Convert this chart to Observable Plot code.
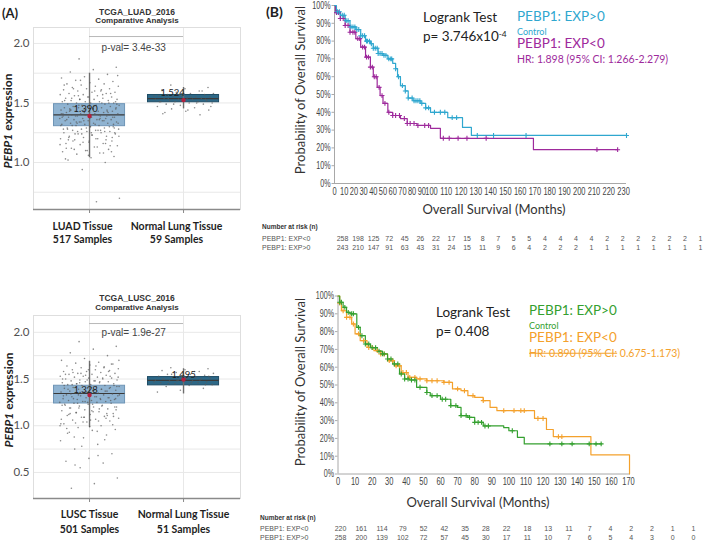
<!DOCTYPE html>
<html><head><meta charset="utf-8">
<script src="https://cdn.jsdelivr.net/npm/d3@7"></script>
<script src="https://cdn.jsdelivr.net/npm/@observablehq/plot@0.6"></script>
<style>
html,body{margin:0;padding:0;background:#fff;}
#root{position:relative;width:709px;height:542px;overflow:hidden;font-family:Lato,"Open Sans",sans-serif;color:#222;}
.t{position:absolute;white-space:nowrap;line-height:1;}
.c{transform:translate(-50%,-50%);}
.l{transform:translate(0,-50%);}
.r{transform:translate(-50%,-50%) rotate(-90deg);}
</style></head><body><div id="root"></div>
<script>
// ---------------- DATA ----------------
// Panel A (top): TCGA_LUAD_2016
const luadCats = ["LUAD Tissue", "Normal Lung Tissue"];
const luadN = [517, 59];
const luadQ1 = [1.305, 1.506];
const luadQ3 = [1.49, 1.567];
const luadMed = [1.40, 1.536];
const luadLo = [1.04, 1.45];
const luadHi = [1.75, 1.63];
const luadMean = [1.390, 1.524];
const luadPval = "p-val= 3.4e-33";
const luadTumorPts = [1.87,1.80,1.78,1.76,1.74,1.72,1.71,1.70,1.69,1.68,1.67,1.66,1.66,1.65,1.64,1.64,1.63,1.62,1.62,1.61,1.60,1.60,1.59,1.59,1.58,1.58,1.57,1.57,1.56,1.56,1.55,1.55,1.54,1.54,1.53,1.53,1.53,1.52,1.52,1.51,1.51,1.51,1.50,1.50,1.50,1.49,1.49,1.48,1.48,1.48,1.47,1.47,1.47,1.46,1.46,1.46,1.45,1.45,1.45,1.44,1.44,1.44,1.43,1.43,1.43,1.42,1.42,1.42,1.41,1.41,1.41,1.40,1.40,1.40,1.39,1.39,1.39,1.38,1.38,1.38,1.37,1.37,1.37,1.36,1.36,1.36,1.35,1.35,1.35,1.34,1.34,1.33,1.33,1.33,1.32,1.32,1.31,1.31,1.30,1.30,1.29,1.29,1.28,1.28,1.27,1.27,1.26,1.26,1.25,1.25,1.24,1.24,1.23,1.22,1.22,1.21,1.20,1.20,1.19,1.18,1.17,1.16,1.16,1.15,1.14,1.13,1.12,1.11,1.10,1.09,1.08,1.07,1.05,1.04,1.02,1.00,0.94,0.70,0.67,
  1.62,1.58,1.55,1.52,1.50,1.48,1.46,1.45,1.44,1.43,1.42,1.41,1.40,1.39,1.38,1.37,1.36,1.35,1.34,1.33,1.32,1.31,1.30,1.29,1.28,1.27,1.26,1.25,1.23,1.21,1.19,1.17,1.15,1.13,1.11,1.09,1.06,1.03,1.57,1.53,1.49,1.47,1.44,1.42,1.40,1.38,1.36,1.34,1.32,1.30,1.28,1.26,1.24,1.22,1.20,1.18,1.14,1.10,1.65,1.61,1.56,1.51,1.46,1.43,1.39,1.35,1.31,1.27,1.24,1.21,1.18,1.12,1.08,1.69,1.73,1.60,1.54,1.50,1.45,1.41,1.37,1.33,1.29,1.25,1.19,1.16];
const luadNormalPts = [1.65,1.63,1.62,1.61,1.60,1.59,1.58,1.58,1.57,1.57,1.56,1.56,1.55,1.55,1.55,1.54,1.54,1.54,1.53,1.53,1.53,1.52,1.52,1.52,1.51,1.51,1.51,1.50,1.50,1.49,1.49,1.48,1.47,1.46,1.45,1.44,1.43,1.41,1.40,
  1.58,1.56,1.55,1.54,1.53,1.52,1.51,1.50,1.49,1.47,1.44,1.42,1.60,1.57];

// Panel A (bottom): TCGA_LUSC_2016
const luscCats = ["LUSC Tissue", "Normal Lung Tissue"];
const luscN = [501, 51];
const luscQ1 = [1.238, 1.432];
const luscQ3 = [1.428, 1.521];
const luscMed = [1.345, 1.485];
const luscLo = [0.98, 1.34];
const luscHi = [1.69, 1.61];
const luscMean = [1.328, 1.495];
const luscPval = "p-val= 1.9e-27";
const luscTumorPts = [1.90,1.85,1.82,1.78,1.75,1.72,1.70,1.68,1.67,1.66,1.65,1.64,1.63,1.62,1.61,1.60,1.60,1.59,1.58,1.58,1.57,1.56,1.56,1.55,1.55,1.54,1.53,1.53,1.52,1.52,1.51,1.51,1.50,1.50,1.49,1.49,1.48,1.48,1.47,1.47,1.46,1.46,1.45,1.45,1.44,1.44,1.43,1.43,1.42,1.42,1.41,1.41,1.40,1.40,1.39,1.39,1.38,1.38,1.37,1.37,1.36,1.36,1.35,1.35,1.34,1.34,1.33,1.33,1.32,1.32,1.31,1.31,1.30,1.30,1.29,1.29,1.28,1.28,1.27,1.27,1.26,1.26,1.25,1.25,1.24,1.24,1.23,1.22,1.22,1.21,1.20,1.20,1.19,1.18,1.17,1.16,1.15,1.14,1.13,1.12,1.11,1.10,1.09,1.08,1.07,1.06,1.05,1.04,1.02,1.00,0.98,0.96,0.95,0.93,0.90,0.87,0.84,0.80,0.75,0.70,0.65,0.62,0.60,0.55,0.44,0.38,0.33,
  1.58,1.54,1.50,1.47,1.45,1.43,1.41,1.39,1.37,1.35,1.33,1.31,1.29,1.27,1.25,1.23,1.21,1.19,1.17,1.15,1.13,1.11,1.09,1.07,1.05,1.03,1.01,0.99,0.97,1.62,1.56,1.52,1.48,1.44,1.40,1.36,1.32,1.28,1.24,1.20,1.16,1.12,1.08,1.04,1.00,0.94,0.88,1.66,1.60,1.55,1.51,1.46,1.42,1.38,1.34,1.30,1.26,1.22,1.18,1.14,1.10,1.06,0.92,0.85,0.78,1.70,1.64,1.57,1.53,1.49,1.43,1.39,1.33,1.29,1.23,1.19,1.13,1.09,1.02,0.68,0.58];
const luscNormalPts = [1.62,1.61,1.60,1.59,1.58,1.57,1.56,1.55,1.55,1.54,1.53,1.53,1.52,1.52,1.51,1.51,1.50,1.50,1.49,1.49,1.48,1.48,1.47,1.47,1.46,1.46,1.45,1.44,1.43,1.42,1.40,1.38,1.36,
  1.58,1.55,1.53,1.51,1.50,1.49,1.48,1.47,1.46,1.45,1.44,1.52];

// Panel B (top): LUAD survival (months, survival fraction)
const topHighT = [0,2,6,11,16,22,27,32,37,40,45,50,55,60,63,65,68,73,76,81,89,94,99,111,121,127,232];
const topHighS = [1.0,0.965,0.945,0.915,0.88,0.865,0.83,0.80,0.785,0.76,0.73,0.72,0.70,0.675,0.645,0.60,0.55,0.52,0.48,0.465,0.45,0.425,0.40,0.37,0.315,0.27,0.27];
const topHighCens = [3,5,8,10,12,14,17,19,21,23,25,27,29,31,33,34,36,38,40,42,44,45,47,49,51,53,56,58,59,63,66,70,73,76,80,82,84,86,88,90,94,97,102,106,109,114,117,131,142,164,232];
const topLowT = [0,1,6,11,16,22,27,32,37,40,44,47,50,55,60,68,75,85,99,106,169,226];
const topLowS = [1.0,0.96,0.927,0.888,0.85,0.814,0.766,0.71,0.654,0.60,0.54,0.494,0.45,0.40,0.382,0.365,0.337,0.326,0.31,0.254,0.19,0.19];
const topLowCens = [2,4,6,9,11,14,16,19,21,24,26,29,31,33,35,37,39,41,43,46,49,52,56,60,63,67,72,75,78,82,86,93,97,108,112,118,124,137,212,226];
const topRiskLow = [258,198,125,72,45,26,22,17,15,8,7,5,5,4,4,4,4,2,2,2,2,2,2,1];
const topRiskHigh = [243,210,147,91,63,43,31,24,15,11,9,6,4,2,2,2,1,1,1,1,1,1,1,1];
const topXTicks = [0,10,20,30,40,50,60,70,80,90,100,110,120,130,140,150,160,170,180,190,200,210,220,230];

// Panel B (bottom): LUSC survival
const botHighT = [0,1,3,5,7,11,13,16,19,23,26,29,32,36,39,42,46,52,54,60,66,70,72,76,80,85,97,100,105,109,154];
const botHighS = [1.0,0.965,0.936,0.908,0.90,0.824,0.777,0.73,0.71,0.69,0.675,0.646,0.618,0.562,0.534,0.528,0.487,0.458,0.44,0.42,0.384,0.374,0.328,0.318,0.29,0.27,0.26,0.243,0.206,0.169,0.169];
const botHighCens = [1,2,4,6,8,9,12,14,16,18,20,22,24,26,27,29,31,33,35,37,39,41,43,45,48,52,55,58,61,63,66,69,72,75,77,80,82,84,86,88,102,124,131,137,147,151,154];
const botLowT = [0,1,2,5,8,10,13,17,21,25,29,33,37,41,46,52,62,67,72,76,80,85,89,93,115,122,126,129,148,170.6];
const botLowS = [1.0,0.96,0.917,0.88,0.843,0.787,0.749,0.711,0.693,0.674,0.637,0.608,0.57,0.543,0.534,0.524,0.515,0.478,0.468,0.44,0.43,0.412,0.374,0.356,0.312,0.25,0.21,0.21,0.108,0.0];
const botLowCens = [1,3,5,7,9,12,15,18,20,23,25,27,30,32,34,36,38,40,42,45,48,52,55,58,62,65,70,74,79,85,97,103,107,109,117,120,129,131];
const botRiskLow = [220,161,114,79,52,42,35,28,22,18,13,11,7,4,2,2,1,1];
const botRiskHigh = [258,200,139,102,72,57,45,30,17,11,10,7,6,5,4,3,0,0];
const botXTicks = [0,10,20,30,40,50,60,70,80,90,100,110,120,130,140,150,160,170];

const yPctTicks = [0,0.1,0.2,0.3,0.4,0.5,0.6,0.7,0.8,0.9,1.0];

// ---------------- STYLE ----------------
const boxFill = ["#8fb3d1", "#2d6887"];
const boxStroke = ["#6f95b6", "#1f4d66"];
const cCyan = "#2fa7cf", cPurple = "#9e2a9c", cGreen = "#34a02f", cOrange = "#f4a12c";

const root = document.getElementById("root");
function put(node, left, top) {
  const d = document.createElement("div");
  d.style.cssText = `position:absolute;left:${left}px;top:${top}px;line-height:0`;
  d.appendChild(node); root.appendChild(d);
}
function txt(html, x, y, cls, css) {
  const d = document.createElement("div");
  d.className = "t " + cls; d.innerHTML = html;
  d.style.left = x + "px"; d.style.top = y + "px";
  if (css) d.style.cssText += css;
  root.appendChild(d);
}
// horizontally condense tick label glyphs (the reference uses a condensed face)
function condense(svg, sx) {
  svg.querySelectorAll('g[aria-label$="tick label"] text').forEach(t => {
    const tr = t.getAttribute("transform");
    if (tr) t.setAttribute("transform", tr + ` scale(${sx},1)`);
    else {
      const x = +t.getAttribute("x") || 0, y = +t.getAttribute("y") || 0;
      t.setAttribute("x", 0); t.setAttribute("y", 0);
      t.setAttribute("transform", `translate(${x},${y}) scale(${sx},1)`);
    }
  });
}

// ---------------- BOX PANELS ----------------
function boxPanel(o) {
  const stats = o.cats.map((c, i) => ({i, q1: o.q1[i], q3: o.q3[i], med: o.med[i], lo: o.lo[i], hi: o.hi[i], mean: o.mean[i]}));
  const pts = [];
  o.pts.forEach((arr, i) => arr.forEach((v, k) => pts.push({i, k, v})));
  const jit = d => d.i + ((Math.imul(d.k + 7 + 131 * d.i, 2654435761) >>> 0) / 4294967296 - 0.5) * 0.64;
  const hw = 0.378, pxPerUnit = 94;
  const y0 = o.yDomain[0];
  const svg = Plot.plot({
    width: 250, height: o.height,
    marginLeft: 33, marginRight: 10, marginTop: o.mTop, marginBottom: o.mBottom,
    style: {background: "transparent", fontFamily: "Lato, sans-serif", overflow: "visible"},
    x: {domain: [-0.596, 1.606], axis: null},
    y: {domain: o.yDomain, axis: null},
    marks: [
      Plot.gridY(o.grid, {stroke: "#e8e8e8", strokeOpacity: 1}),
      Plot.gridX([0, 1], {stroke: "#e8e8e8", strokeOpacity: 1}),
      Plot.frame({stroke: "#dedede"}),
      Plot.ruleY([y0], {stroke: "#8a8a8a", strokeWidth: 1.6}),
      Plot.axisY(o.ticks, {tickSize: 0, tickPadding: 4, fontSize: 11.5, fill: "#505050", label: null, tickFormat: d => d.toFixed(1)}),
      Plot.axisX([0, 1], {tickSize: 4, stroke: "#8a8a8a", label: null, tickFormat: () => ""}),
      Plot.text(o.cats, {x: (d, i) => i, y: () => y0, text: (d, i) => d + "\n" + o.n[i] + " Samples",
        lineAnchor: "top", dy: o.catDy, dx: o.catDx, lineHeight: o.catLH, fontSize: 10.5, fontWeight: "bold", fill: "#1e1e1e"}),
      Plot.ruleY([{y: o.pvalY, a: 0, b: 1}], {y: "y", x1: "a", x2: "b", stroke: "#b8b8b8"}),
      Plot.text([{x: 0.47, y: o.pvalY}], {x: "x", y: "y", text: () => o.pval, dy: o.pvalDy, fontSize: 10, fill: "#444", fontFamily: '"Liberation Sans",Arial,sans-serif'}),
      Plot.rect(stats, {x1: d => d.i - hw, x2: d => d.i + hw, y1: "q1", y2: "q3", fill: d => boxFill[d.i], stroke: d => boxStroke[d.i]}),
      Plot.ruleX(stats, {x: "i", y1: "lo", y2: "hi", stroke: "#6e6e6e", strokeWidth: 1.4}),
      Plot.ruleY(stats, {y: "med", x1: d => d.i - hw, x2: d => d.i + hw, stroke: "#3a3a3a", strokeWidth: 1.2}),
      Plot.dot(pts, {x: jit, y: "v", r: 0.8, fill: "#5a5a5a", fillOpacity: 0.7}),
      Plot.dot(stats, {x: "i", y: "mean", r: 2.2, fill: "#b3213f"}),
      Plot.text(stats, {x: d => d.i + o.labDx[d.i] / pxPerUnit, y: "mean", text: d => d.mean.toFixed(3), fontSize: 9.5, fill: "#222", dy: o.labDy})
    ]
  });
  put(svg, 0, o.top);
}

boxPanel({top: 0, height: 250, mTop: 27, mBottom: 41, yDomain: [0.605, 2.134],
  ticks: [1.0, 1.5, 2.0], grid: [0.75, 1.0, 1.25, 1.5, 1.75, 2.0],
  cats: luadCats, n: luadN, q1: luadQ1, q3: luadQ3, med: luadMed, lo: luadLo, hi: luadHi, mean: luadMean,
  pts: [luadTumorPts, luadNormalPts], pval: luadPval, pvalY: 2.058, pvalDy: 11,
  catDy: 11, catDx: -7, catLH: 1.24, labDy: -7, labDx: [-4, -11]});
boxPanel({top: 260, height: 280, mTop: 55, mBottom: 42, yDomain: [0.221, 2.18],
  ticks: [0.5, 1.0, 1.5, 2.0], grid: [0.5, 0.75, 1.0, 1.25, 1.5, 1.75, 2.0],
  cats: luscCats, n: luscN, q1: luscQ1, q3: luscQ3, med: luscMed, lo: luscLo, hi: luscHi, mean: luscMean,
  pts: [luscTumorPts, luscNormalPts], pval: luscPval, pvalY: 2.094, pvalDy: 9,
  catDy: 9, catDx: 0, catLH: 1.43, labDy: -5, labDx: [-4, 0]});

// ---------------- KM PANELS ----------------
function steps(T, S) { return T.map((t, i) => ({t, s: S[i]})); }
function cens(T, S, C) {
  return C.map(t => { let s = S[0]; for (let i = 0; i < T.length; i++) if (T[i] <= t) s = S[i]; return {t, s}; });
}
function kmPanel(o) {
  const svg = Plot.plot({
    width: 459, height: o.height,
    marginLeft: o.mL, marginRight: o.mR, marginTop: o.mT, marginBottom: o.mB,
    style: {background: "transparent", fontFamily: '"Liberation Sans",Arial,sans-serif', overflow: "visible"},
    x: Object.assign({type: "linear", axis: null, label: null}, o.x),
    y: {domain: [0, 1], axis: null, label: null},
    marks: [
      Plot.axisY(yPctTicks, {tickFormat: d3.format(".0%"), tickSize: 2.5, tickPadding: 1.5, fontSize: 10.5, fill: "#444", stroke: "#aaa", label: null}),
      Plot.axisX(o.xTicks, {tickSize: 0, tickPadding: o.xPad, fontSize: 11, fill: "#444", label: null}),
      Plot.ruleX([0], {stroke: "#a8a8a8"}),
      Plot.ruleY([0], {stroke: "#a8a8a8"}),
      ...o.series.map(s => Plot.line(s.data, {x: "t", y: "s", curve: "step-after", stroke: s.color, strokeWidth: 1.2})),
      ...o.series.map(s => Plot.dot(s.cens, {x: "t", y: "s", symbol: "plus", r: 1.7, stroke: s.color, strokeWidth: 1.1}))
    ]
  });
  condense(svg, 0.68);
  put(svg, 250, o.top);
}
// top panel: its printed month axis is spaced wider past 100 months, reproduced with a scale transform
const topStretch = 1.523;
kmPanel({top: 0, height: 220, mT: 5, mB: 37, mL: 84, mR: 83,
  x: {domain: [0, 100 + 132 * topStretch], transform: m => m <= 100 ? m : 100 + (m - 100) * topStretch},
  xTicks: topXTicks, xPad: 4,
  series: [
    {data: steps(topLowT, topLowS), cens: cens(topLowT, topLowS, topLowCens), color: cPurple},
    {data: steps(topHighT, topHighS), cens: cens(topHighT, topHighS, topHighCens), color: cCyan}
  ]});
kmPanel({top: 285, height: 225, mT: 10.5, mB: 36.5, mL: 87.5, mR: 79.3,
  x: {domain: [0, 171]}, xTicks: botXTicks, xPad: 3,
  series: [
    {data: steps(botLowT, botLowS), cens: cens(botLowT, botLowS, botLowCens), color: cOrange},
    {data: steps(botHighT, botHighS), cens: cens(botHighT, botHighS, botHighCens), color: cGreen}
  ]});

// ---------------- RISK TABLES ----------------
function riskTable(o) {
  const names = ["low", "high"];
  const data = [];
  o.rows.forEach((arr, r) => arr.forEach((v, k) => data.push({r: names[r], k, v})));
  const svg = Plot.plot({
    width: 459, height: o.height, margin: 0,
    style: {background: "transparent", fontFamily: '"Liberation Sans",Arial,sans-serif', overflow: "visible"},
    x: {domain: [0, o.rows[0].length - 1], range: o.xRange, axis: null},
    y: {type: "point", padding: 0, domain: names, range: o.yRange, axis: null},
    marks: [Plot.text(data, {x: "k", y: "r", text: d => String(d.v), fontSize: 7, fill: "#555"})]
  });
  put(svg, 250, o.top);
}
riskTable({top: 222, height: 30, rows: [topRiskLow, topRiskHigh], xRange: [92, 450], yRange: [16, 25]});
riskTable({top: 512, height: 30, rows: [botRiskLow, botRiskHigh], xRange: [90, 443], yRange: [16, 25]});

// ---------------- TEXT ----------------
const sansB = "font-family:'Liberation Sans',Arial,sans-serif;font-weight:700;color:#333;";
txt("(A)", 2, 13, "l", "font-weight:700;font-size:13px;");
txt("(B)", 266, 12, "l", "font-weight:700;font-size:14px;");
txt("TCGA_LUAD_2016", 137, 12, "c", sansB + "font-size:8.5px;");
txt("Comparative Analysis", 137, 21, "c", sansB + "font-size:8px;");
txt("TCGA_LUSC_2016", 137, 298, "c", sansB + "font-size:8.5px;");
txt("Comparative Analysis", 137, 308, "c", sansB + "font-size:8px;");
txt("<i>PEBP1</i> expression", 8, 121, "r", "font-weight:700;font-size:12px;");
txt("<i>PEBP1</i> expression", 9, 400, "r", "font-weight:700;font-size:12px;");

const kmT = "font-size:13px;color:#333;";
txt("Probability of Overall Survival", 300, 90, "r", kmT);
txt("Overall Survival (Months)", 494, 209, "c", kmT);
txt("Probability of Overall Survival", 300, 382, "r", kmT);
txt("Overall Survival (Months)", 478, 502, "c", kmT);

const big = "font-size:13.5px;";
const small = "font-size:9px;";
const hr = "font-size:10.5px;";
txt("Logrank Test", 423, 18, "l", big + "color:#222;");
txt("p= 3.746x10<sup style='font-size:0.62em;vertical-align:0.55em;line-height:0'>-4</sup>", 423, 37, "l", big + "color:#222;");
txt("PEBP1: EXP&gt;0", 517, 17, "l", big + "color:" + cCyan);
txt("Control", 517, 30.7, "l", small + "color:" + cCyan);
txt("PEBP1: EXP&lt;0", 517, 44.3, "l", big + "color:" + cPurple);
txt("HR: 1.898 (95% CI: 1.266-2.279)", 517, 59, "l", hr + "color:" + cPurple);

txt("Logrank Test", 436, 313, "l", big + "color:#222;");
txt("p= 0.408", 436, 332, "l", big + "color:#222;");
txt("PEBP1: EXP&gt;0", 529, 311, "l", big + "color:" + cGreen);
txt("Control", 529, 324.7, "l", small + "color:" + cGreen);
txt("PEBP1: EXP&lt;0", 529, 338.4, "l", big + "color:" + cOrange);
txt("<s>HR: 0.890 (95% CI:</s> 0.675-1.173)", 529, 353, "l", hr + "color:" + cOrange);

const tabH = "font-family:'Liberation Sans',Arial,sans-serif;font-weight:700;font-size:6.5px;color:#333;";
const tabR = "font-family:'Liberation Sans',Arial,sans-serif;font-size:7px;color:#555;";
txt("Number at risk (n)", 262, 227, "l", tabH);
txt("PEBP1: EXP&lt;0", 262, 238, "l", tabR);
txt("PEBP1: EXP&gt;0", 262, 247, "l", tabR);
txt("Number at risk (n)", 260, 518, "l", tabH);
txt("PEBP1: EXP&lt;0", 260, 528, "l", tabR);
txt("PEBP1: EXP&gt;0", 260, 537, "l", tabR);
</script></body></html>
